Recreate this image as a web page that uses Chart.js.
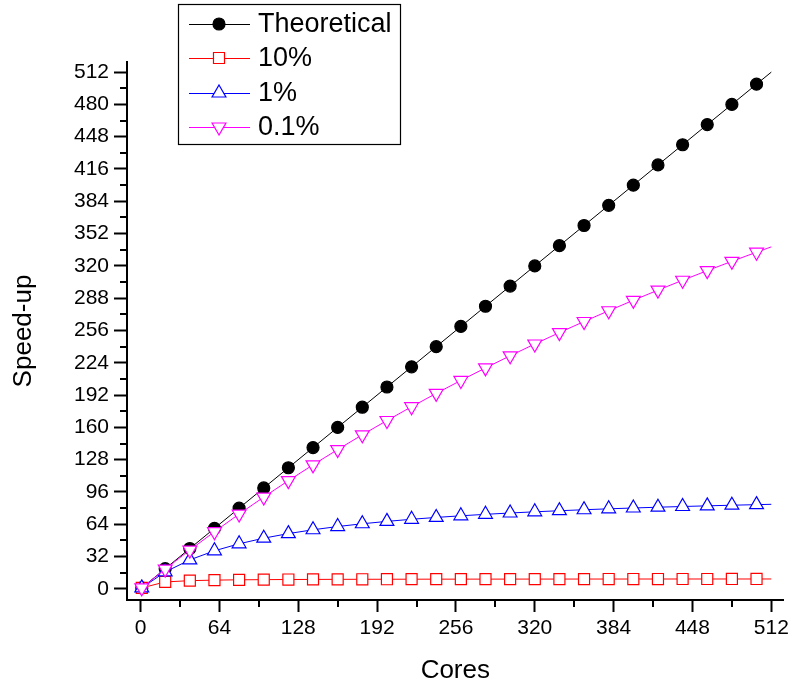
<!DOCTYPE html>
<html>
<head>
<meta charset="utf-8">
<script src="https://cdn.jsdelivr.net/npm/chart.js@4.4.1/dist/chart.umd.min.js"></script>
<style>
  html, body { margin: 0; padding: 0; background: #fff; }
  #wrap { width: 793px; height: 686px; }
</style>
</head>
<body>
<div id="wrap"><canvas id="myChart"></canvas></div>
<script>
// cores sampled every 20, line runs on to 512
var cores = [1, 20, 40, 60, 80, 100, 120, 140, 160, 180, 200, 220, 240, 260, 280, 300,
  320, 340, 360, 380, 400, 420, 440, 460, 480, 500, 512];

var theoretical = [1, 20, 40, 60, 80, 100, 120, 140, 160, 180, 200, 220, 240, 260, 280, 300,
  320, 340, 360, 380, 400, 420, 440, 460, 480, 500, 512];

var serial10 = [1, 6.90, 8.16, 8.70, 8.99, 9.17, 9.30, 9.40, 9.47, 9.52, 9.57, 9.61, 9.64, 9.67,
  9.69, 9.71, 9.73, 9.74, 9.76, 9.77, 9.78, 9.79, 9.80, 9.81, 9.82, 9.82, 9.83];

var serial1 = [1, 16.81, 28.78, 37.74, 44.69, 50.25, 54.79, 58.58, 61.78, 64.52, 66.89, 68.97,
  70.80, 72.42, 73.88, 75.19, 76.37, 77.45, 78.43, 79.33, 80.16, 80.92, 81.63, 82.29, 82.90,
  83.47, 83.80];

var serial01 = [1, 19.63, 38.50, 56.66, 74.14, 90.99, 107.24, 122.91, 138.05, 152.67, 166.81,
  180.48, 193.70, 206.51, 218.92, 230.95, 242.61, 253.92, 264.90, 275.56, 285.92, 295.98,
  305.77, 315.28, 324.54, 333.56, 338.85];

var xTicks = [0, 64, 128, 192, 256, 320, 384, 448, 512];
var yTicks = [0, 32, 64, 96, 128, 160, 192, 224, 256, 288, 320, 352, 384, 416, 448, 480, 512];

var FONT = '"Liberation Sans", Arial, sans-serif';

function pairs(ys) {
  return cores.map(function (c, i) { return { x: c, y: ys[i] }; });
}

// hide the marker on the last (512) point
function markerRadius(r) {
  return function (ctx) { return ctx.dataIndex === cores.length - 1 ? 0 : r; };
}

function makeSet(label, ys, color, style, r, fill, rot, order) {
  return {
    label: label,
    data: pairs(ys),
    borderColor: color,
    backgroundColor: fill,
    borderWidth: 1,
    pointStyle: style,
    pointRadius: markerRadius(r),
    legendRadius: r,
    pointBorderColor: color,
    pointBackgroundColor: fill,
    pointBorderWidth: 1.2,
    pointRotation: rot,
    tension: 0,
    order: order
  };
}

var datasets = [
  makeSet('Theoretical', theoretical, '#000000', 'circle', 6, '#000000', 0, 4),
  makeSet('10%', serial10, '#ff0000', 'rect', 7.8, '#ffffff', 0, 3),
  makeSet('1%', serial1, '#0000ff', 'triangle', 8, '#ffffff', 0, 2),
  makeSet('0.1%', serial01, '#ff00ff', 'triangle', 8, '#ffffff', 180, 1)
];

// minor ticks halfway between the labelled ones
var minorTicks = {
  id: 'minorTicks',
  afterDraw: function (chart) {
    var c = chart.ctx, xs = chart.scales.x, ys = chart.scales.y, a = chart.chartArea;
    c.save();
    c.strokeStyle = '#000';
    c.lineWidth = 2;
    c.beginPath();
    for (var i = 0; i < xTicks.length - 1; i++) {
      var px = Math.round(xs.getPixelForValue((xTicks[i] + xTicks[i + 1]) / 2));
      c.moveTo(px, a.bottom);
      c.lineTo(px, a.bottom + 7);
    }
    for (var j = 0; j < yTicks.length - 1; j++) {
      var py = Math.round(ys.getPixelForValue((yTicks[j] + yTicks[j + 1]) / 2));
      c.moveTo(a.left, py);
      c.lineTo(a.left - 7, py);
    }
    c.stroke();
    c.restore();
  }
};

// legend box: line sample + marker + label
var boxLegend = {
  id: 'boxLegend',
  afterDraw: function (chart) {
    var c = chart.ctx;
    var left = 178, top = 4, w = 222, h = 140;
    c.save();
    c.fillStyle = '#fff';
    c.fillRect(left, top, w, h);
    c.strokeStyle = '#000';
    c.lineWidth = 1.2;
    c.strokeRect(left + 0.5, top + 0.5, w, h);
    var rows = [24, 58, 93, 127];
    chart.data.datasets.forEach(function (ds, i) {
      var y = rows[i];
      c.strokeStyle = ds.borderColor;
      c.lineWidth = 1;
      c.beginPath();
      c.moveTo(189, y + 0.5);
      c.lineTo(250, y + 0.5);
      c.stroke();
      c.fillStyle = ds.pointBackgroundColor;
      c.strokeStyle = ds.pointBorderColor;
      c.lineWidth = ds.pointBorderWidth;
      Chart.helpers.drawPoint(c, { pointStyle: ds.pointStyle, rotation: ds.pointRotation,
        radius: ds.legendRadius, borderWidth: ds.pointBorderWidth }, 219, y);
      c.fillStyle = '#000';
      c.font = '27px ' + FONT;
      c.textBaseline = 'middle';
      c.textAlign = 'left';
      c.fillText(ds.label, 258, y + 1);
    });
    c.restore();
  }
};

var myChartObject = document.getElementById('myChart');

var chart = new Chart(myChartObject, {
  type: 'line',
  data: { datasets: datasets },
  plugins: [minorTicks, boxLegend],
  options: {
    responsive: true,
    maintainAspectRatio: false,
    animation: false,
    events: [],
    layout: { padding: { top: 62, right: 8, left: 0, bottom: 0 } },
    plugins: { legend: { display: false }, tooltip: { enabled: false } },
    scales: {
      x: {
        type: 'linear',
        min: -11,
        max: 522,
        afterBuildTicks: function (scale) {
          scale.ticks = xTicks.map(function (v) { return { value: v }; });
        },
        afterFit: function (scale) { scale.height = 86; },
        grid: { drawOnChartArea: false, drawTicks: true, tickLength: 12, tickWidth: 2, tickColor: '#000' },
        border: { display: true, color: '#000', width: 2 },
        ticks: { color: '#000', font: { family: FONT, size: 21 }, padding: 4, maxRotation: 0, autoSkip: false },
        title: { display: true, text: 'Cores', color: '#000', font: { family: FONT, size: 26 }, padding: { top: 0, bottom: 0 } }
      },
      y: {
        type: 'linear',
        min: -11,
        max: 522,
        afterBuildTicks: function (scale) {
          scale.ticks = yTicks.map(function (v) { return { value: v }; });
        },
        afterFit: function (scale) { scale.width = 127; },
        grid: { drawOnChartArea: false, drawTicks: true, tickLength: 13, tickWidth: 2, tickColor: '#000' },
        border: { display: true, color: '#000', width: 2 },
        ticks: { color: '#000', font: { family: FONT, size: 21 }, padding: 5, autoSkip: false },
        title: { display: true, text: 'Speed-up', color: '#000', font: { family: FONT, size: 26 }, padding: { top: 8, bottom: 8 } }
      }
    }
  }
});
</script>
</body>
</html>
